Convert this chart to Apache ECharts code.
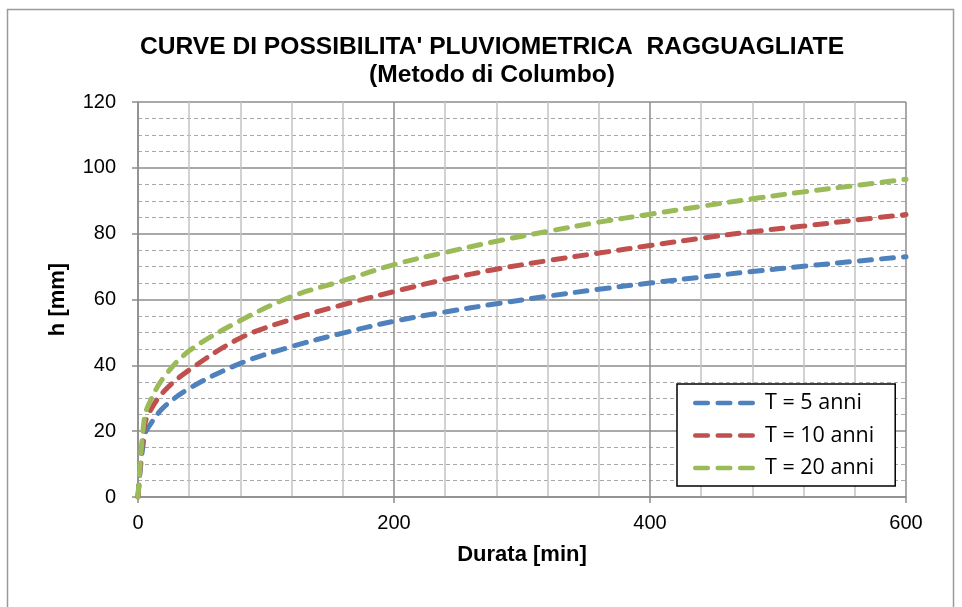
<!DOCTYPE html>
<html>
<head>
<meta charset="utf-8">
<script src="https://cdn.jsdelivr.net/npm/echarts@6/dist/echarts.min.js"></script>
<style>
html,body{margin:0;padding:0;background:#fff;}
#chart{width:962px;height:607px;}
</style>
</head>
<body>
<div id="chart"></div>
<script>
var titleLine1 = "CURVE DI POSSIBILITA' PLUVIOMETRICA  RAGGUAGLIATE";
var titleLine2 = "(Metodo di Columbo)";
var xAxisName = "Durata [min]";
var yAxisName = "h [mm]";
var seriesNames = ["T = 5 anni", "T = 10 anni", "T = 20 anni"];
var durations = [0, 5, 10, 20, 40, 80, 120, 160, 200, 240, 280, 320, 360, 400, 440, 480, 520, 560, 600];
var hT5  = [0, 18.5, 22.3, 27.2, 33.0, 40.6, 45.7, 49.8, 53.4, 56.2, 58.7, 61.0, 63.1, 65.0, 66.8, 68.5, 70.1, 71.6, 73.0];
var hT10 = [0, 21.5, 26.5, 32.0, 38.6, 48.3, 54.0, 58.4, 62.4, 66.1, 69.2, 71.8, 74.1, 76.4, 78.6, 80.6, 82.3, 84.1, 85.8];
var hT20 = [0, 24.0, 29.5, 36.3, 44.4, 53.6, 60.9, 65.7, 70.6, 74.3, 77.7, 80.7, 83.5, 85.9, 88.3, 90.6, 92.7, 94.6, 96.5];
var colors = ["#4F81BD", "#C0504D", "#9BBB59"];

function pairs(xs, ys) { return xs.map(function (x, i) { return [x, ys[i]]; }); }

// legend icon: three short dashes
var dashIcon = 'path://M2,0H15A2,2 0 0 1 15,4.5H2A2,2 0 0 1 2,0Z' +
               'M25,0H38A2,2 0 0 1 38,4.5H25A2,2 0 0 1 25,0Z' +
               'M48,0H61A2,2 0 0 1 61,4.5H48A2,2 0 0 1 48,0Z';

var chart = echarts.init(document.getElementById('chart'), null, {renderer: 'canvas'});
var allSeries = [hT5, hT10, hT20].map(function (vals, i) {
  return {
    name: seriesNames[i],
    type: 'line',
    data: pairs(durations, vals),
    smooth: 0.35,
    symbol: 'none',
    showSymbol: false,
    color: colors[i],
    itemStyle: {color: colors[i]},
    lineStyle: {color: colors[i], width: 5, type: [12, 10], cap: 'round'},
    z: 3
  };
});

chart.setOption({
  animation: false,
  backgroundColor: '#fff',
  title: {
    text: titleLine1 + '\n' + titleLine2,
    left: 487,
    textAlign: 'center',
    top: 28,
    textStyle: {fontFamily: 'Liberation Sans, Arial, sans-serif', fontWeight: 'bold', fontSize: 24.6, lineHeight: 28, color: '#000'}
  },
  grid: {left: 138, right: 56, top: 102, bottom: 110, containLabel: false},
  legend: {
    orient: 'vertical',
    left: 677,
    top: 384,
    padding: [6, 21, 5, 16],
    itemWidth: 62,
    itemHeight: 4.5,
    itemGap: 6.5,
    backgroundColor: '#fff',
    borderColor: '#000',
    borderWidth: 1.5,
    textStyle: {fontFamily: 'Open Sans, sans-serif', fontSize: 21.5, lineHeight: 26, color: '#000', padding: [0, 0, 0, 5]},
    data: seriesNames.map(function (n) { return {name: n, icon: dashIcon}; })
  },
  xAxis: {
    type: 'value',
    min: 0, max: 600, interval: 200,
    name: xAxisName,
    nameLocation: 'middle',
    nameGap: 47,
    nameTextStyle: {fontFamily: 'Liberation Sans, Arial, sans-serif', fontWeight: 'bold', fontSize: 22, color: '#000'},
    axisLine: {show: true, onZero: false, lineStyle: {color: '#8c8c8c', width: 1.5}},
    axisTick: {show: true, inside: false, length: 6, lineStyle: {color: '#8c8c8c', width: 1.5}},
    axisLabel: {margin: 16, fontFamily: 'Liberation Sans, Arial, sans-serif', fontSize: 20, color: '#000'},
    splitLine: {show: true, lineStyle: {color: '#8c8c8c', width: 1.5}},
    minorTick: {show: false, splitNumber: 5},
    minorSplitLine: {show: true, lineStyle: {color: '#c3c3c3', width: 1.5}}
  },
  yAxis: {
    type: 'value',
    min: 0, max: 120, interval: 20,
    name: yAxisName,
    nameLocation: 'middle',
    nameGap: 69,
    nameTextStyle: {fontFamily: 'Liberation Sans, Arial, sans-serif', fontWeight: 'bold', fontSize: 22, color: '#000'},
    axisLine: {show: true, lineStyle: {color: '#8c8c8c', width: 1.5}},
    axisTick: {show: true, inside: false, length: 6, lineStyle: {color: '#8c8c8c', width: 1.5}},
    axisLabel: {margin: 22, fontFamily: 'Liberation Sans, Arial, sans-serif', fontSize: 20, color: '#000'},
    splitLine: {show: true, lineStyle: {color: '#8c8c8c', width: 1.5}},
    minorTick: {show: false, splitNumber: 4},
    minorSplitLine: {show: true, lineStyle: {color: '#a8a8a8', width: 1, type: [4, 3]}}
  },
  graphic: [{
    type: 'rect',
    shape: {x: 7.5, y: 9.5, width: 946, height: 640},
    style: {fill: 'none', stroke: '#9a9a9a', lineWidth: 1.5},
    silent: true,
    z: -1
  }],
  series: allSeries
});
</script>
</body>
</html>
